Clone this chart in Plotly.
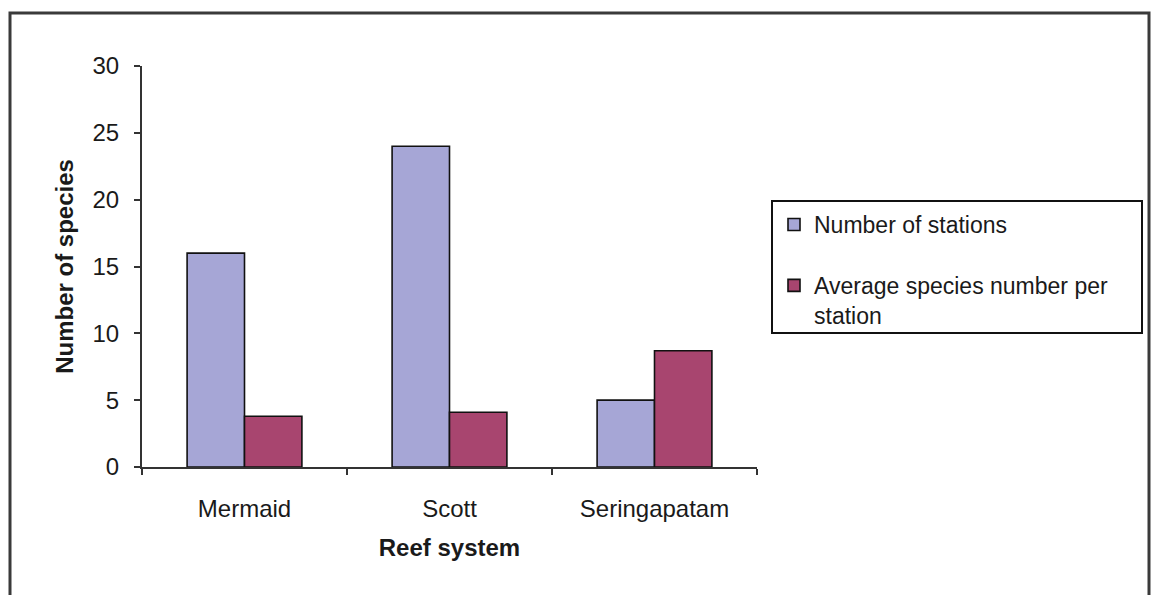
import plotly.graph_objects as go

reefs = ["Mermaid", "Scott", "Seringapatam"]
stations = [16, 24, 5]
avg_species = [3.8, 4.1, 8.7]

series_names = ["Number of stations", "Average species number per<br>station"]
series_colors = ["#a6a6d6", "#a8456f"]

FONT = "Liberation Sans, Arial, sans-serif"

fig = go.Figure()
for name, vals, col, grp in zip(series_names, [stations, avg_species], series_colors, ["a", "b"]):
    fig.add_trace(go.Bar(
        x=reefs, y=vals, name=name, legendgroup=grp,
        marker=dict(color=col, line=dict(color="#111111", width=1.6)),
    ))

# plot area geometry in pixels (used for the frame and legend box)
W, H = 1151, 595
L, R, T, B = 142, 394, 66, 128
pw, ph = W - L - R, H - T - B

def px_x(x):
    return (x - L) / pw

def px_y(y):
    return (H - B - y) / ph

# outer chart frame
fig.add_shape(type="rect", xref="paper", yref="paper",
              x0=px_x(10), x1=px_x(1149), y0=px_y(620), y1=px_y(13),
              line=dict(color="#3a3a3a", width=3), fillcolor="rgba(0,0,0,0)", layer="below")
# legend box
fig.add_shape(type="rect", xref="paper", yref="paper",
              x0=px_x(772), x1=px_x(1142), y0=px_y(333), y1=px_y(201),
              line=dict(color="#111111", width=2), fillcolor="rgba(0,0,0,0)", layer="above")

fig.update_layout(
    width=W, height=H,
    margin=dict(l=L, r=R, t=T, b=B),
    paper_bgcolor="white", plot_bgcolor="white",
    font=dict(family=FONT, size=24, color="#1a1a1a"),
    barmode="group", bargap=0.44, bargroupgap=0,
    showlegend=True,
    legend=dict(
        x=px_x(774), y=px_y(203), xanchor="left", yanchor="top",
        borderwidth=0, bgcolor="rgba(0,0,0,0)",
        font=dict(family=FONT, size=23, color="#1a1a1a"),
        tracegroupgap=28, itemwidth=30, valign="top",
        traceorder="grouped",
    ),
    xaxis=dict(
        showline=True, linecolor="#333333", linewidth=2,
        ticks="outside", tickson="boundaries", ticklen=6, tickcolor="#333333", tickwidth=2,
        ticklabelstandoff=19,
        title=dict(text="<b>Reef system</b>", font=dict(size=24), standoff=18),
        showgrid=False,
    ),
    yaxis=dict(
        range=[0, 30], dtick=5,
        showline=True, linecolor="#333333", linewidth=2,
        ticks="outside", ticklen=6, tickcolor="#333333", tickwidth=2,
        ticklabelstandoff=10,
        title=dict(text="<b>Number of species</b>", font=dict(size=24), standoff=12),
        showgrid=False, zeroline=False,
    ),
)

fig.write_html("out.html")
